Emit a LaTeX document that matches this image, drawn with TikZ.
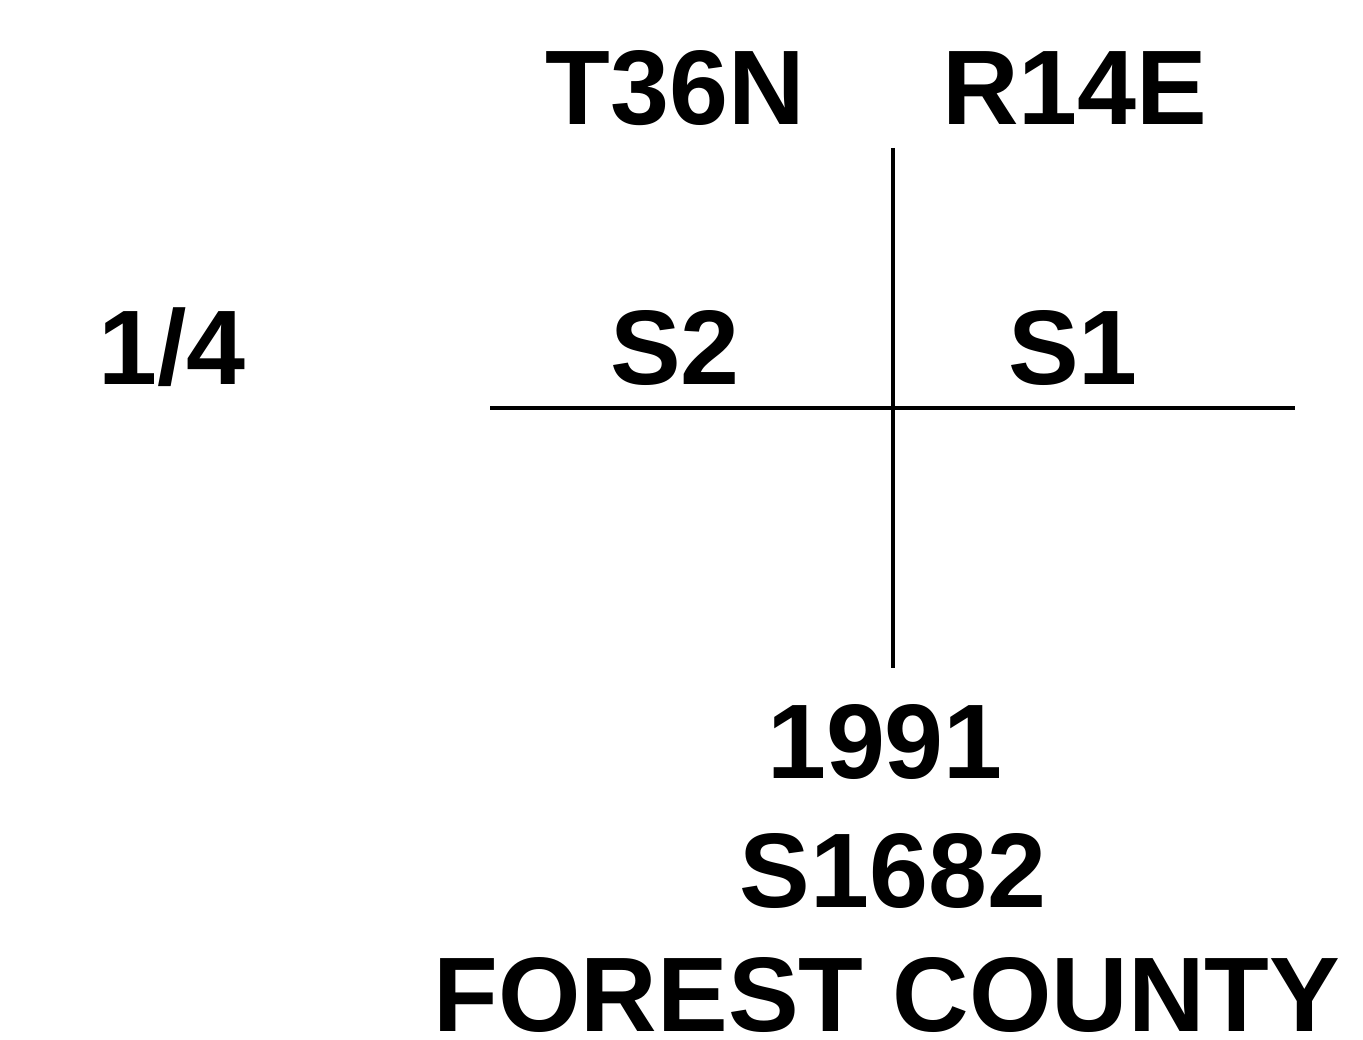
\documentclass[tikz,border=0pt]{standalone}
\usepackage{fontspec}
\setmainfont{Liberation Sans}
\begin{document}
\begin{tikzpicture}[x=1pt,y=-1pt,
  lbl/.style={anchor=base,inner sep=0pt,font=\fontsize{106}{120}\selectfont\bfseries},
  rule/.style={line width=3.5pt,black}]
\useasboundingbox[fill=white] (0,0) rectangle (1363,1040);
\node[lbl] (t) at (675,125) {T36N};
\node[lbl] (r) at (1075,125) {R14E};
\node[lbl] (s2) at (675,385) {S2};
\node[lbl] (s1) at (1073,385) {S1};
\node[lbl] (q) at (172,385) {1/4};
\node[lbl] (y) at (885,778) {1991};
\node[lbl] (n) at (893,907) {S1682};
\node[lbl] (c) at (887,1031) {FOREST COUNTY};
\coordinate (vt) at (893,148);
\coordinate (vb) at (893,668);
\coordinate (hl) at (490,408);
\coordinate (hr) at (1295,408);
\draw[rule] (vt) -- (vb);
\draw[rule] (hl) -- (hr);
\end{tikzpicture}
\end{document}
